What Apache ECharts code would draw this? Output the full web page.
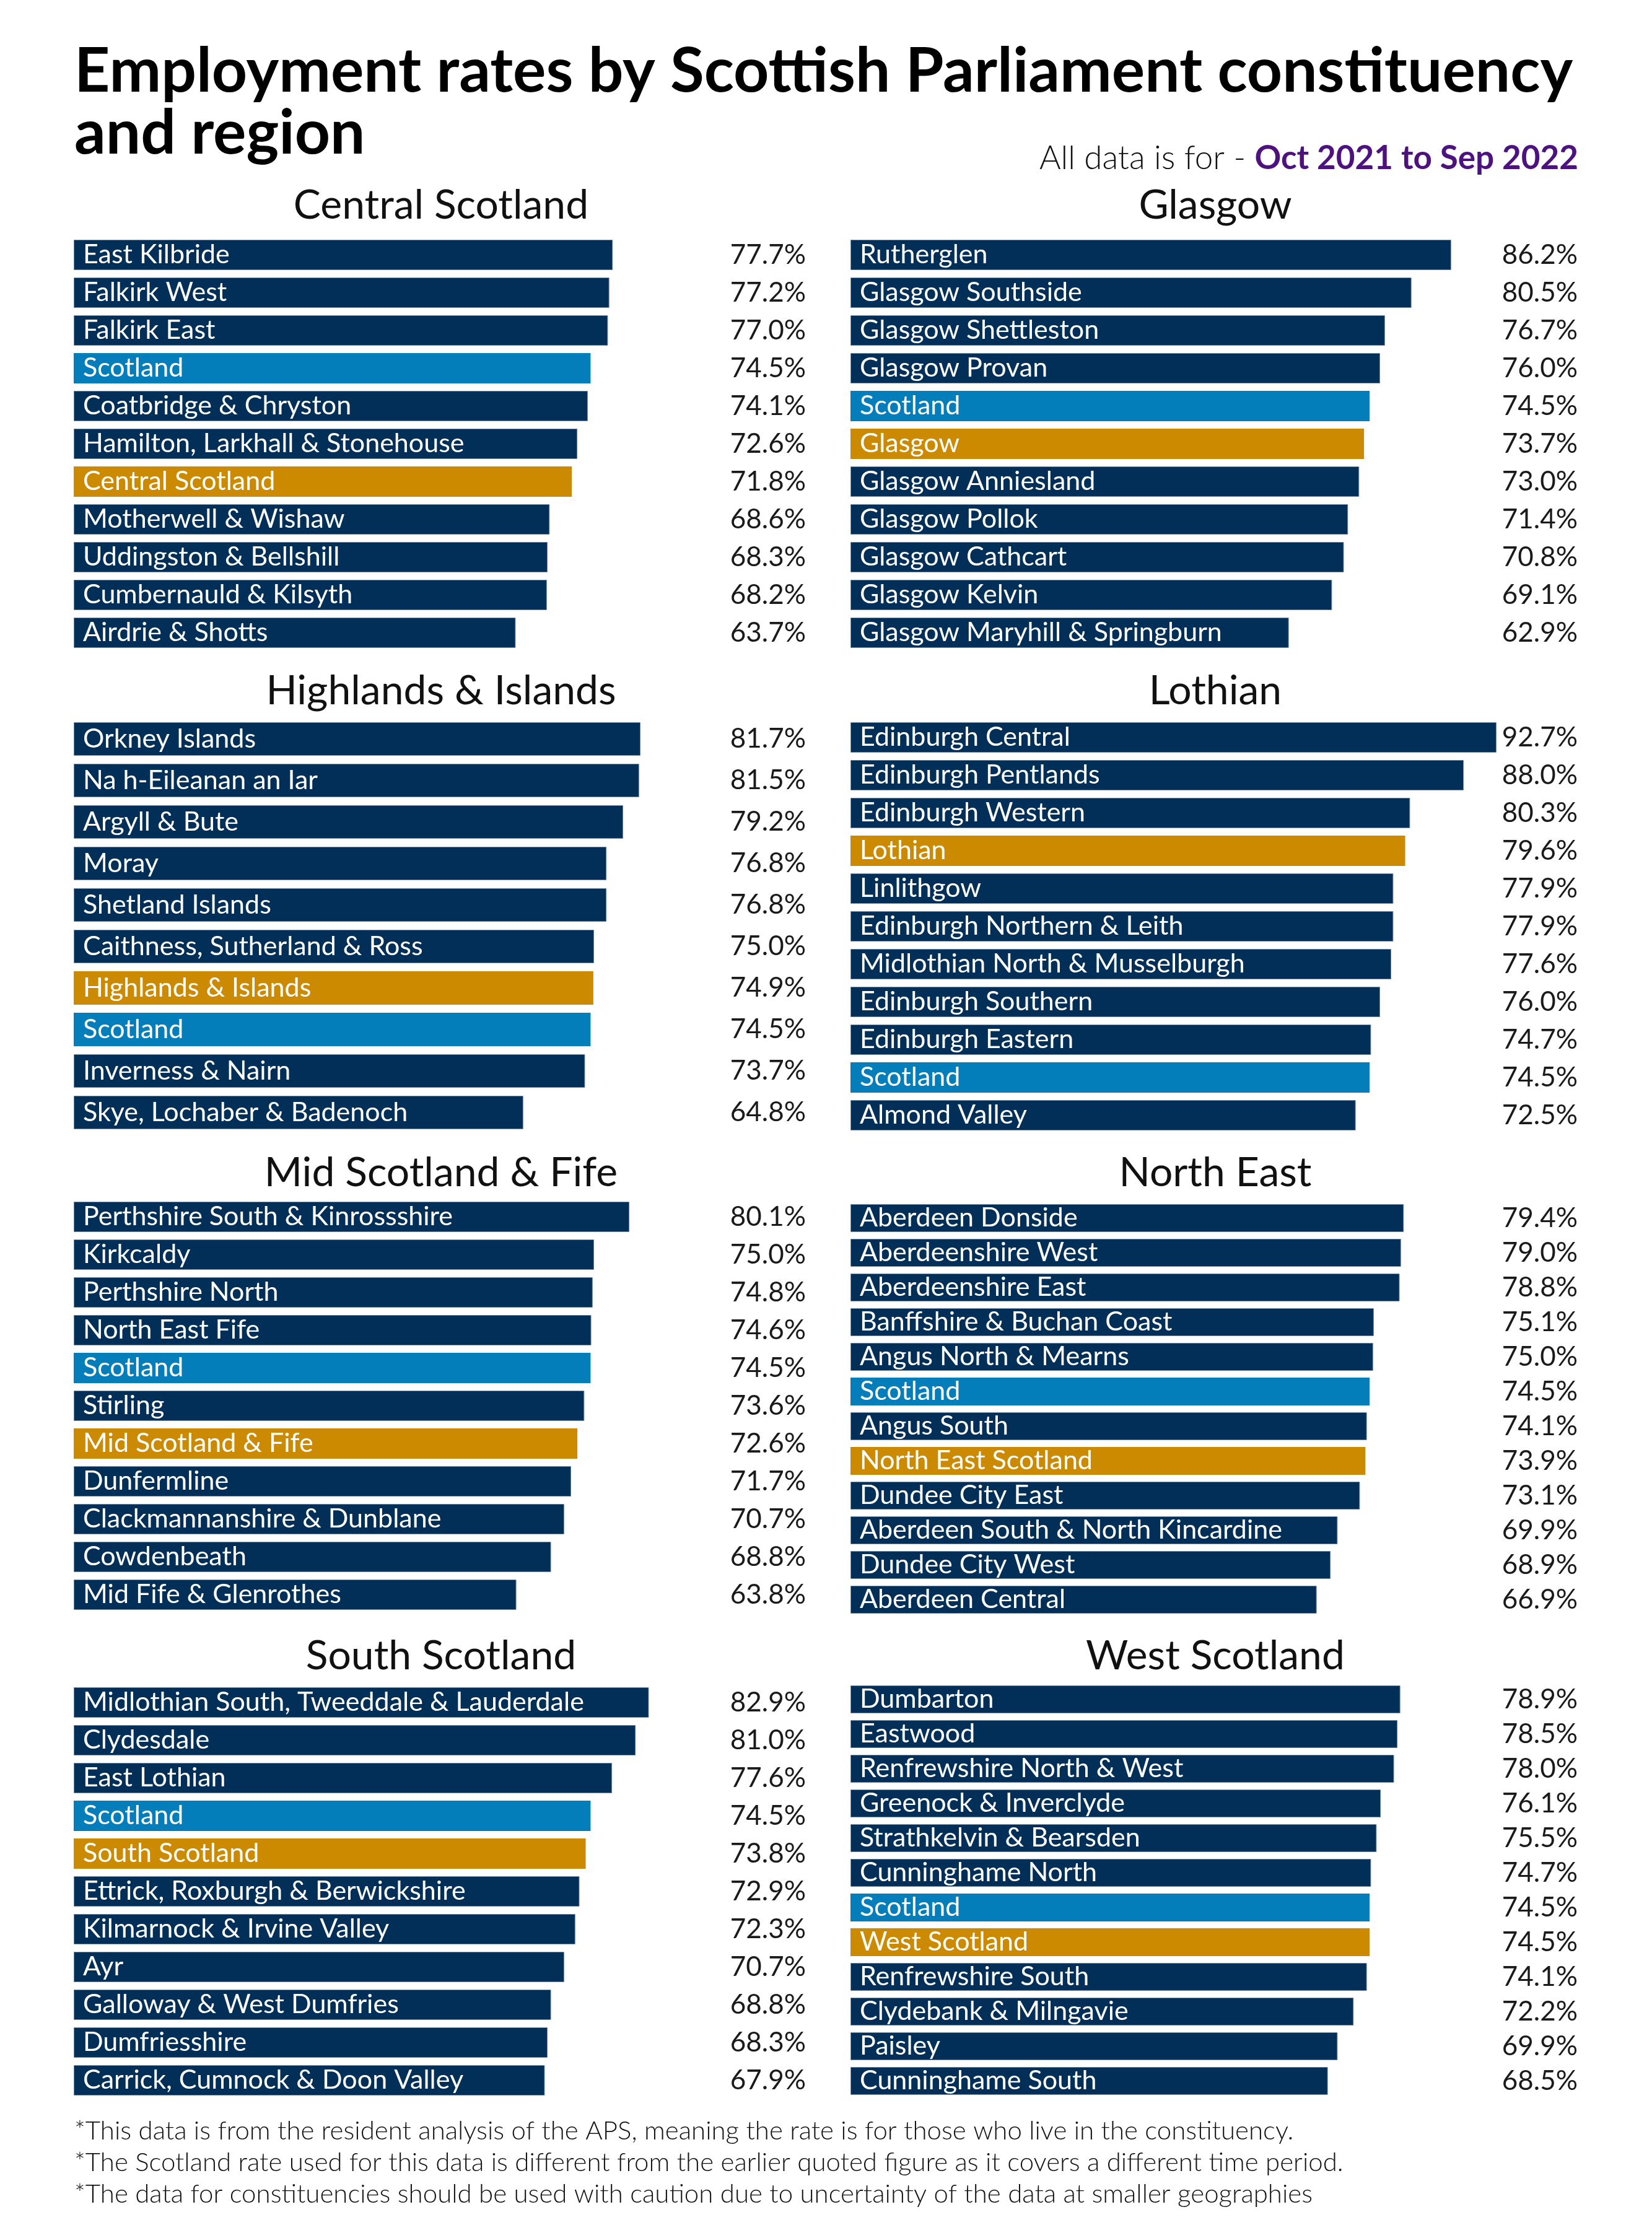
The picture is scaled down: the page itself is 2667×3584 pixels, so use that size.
<!DOCTYPE html>
<html><head><meta charset="utf-8">
<script src="https://cdn.jsdelivr.net/npm/echarts@6/dist/echarts.min.js"></script>
<style>html,body{margin:0;padding:0;background:#fff}#chart{width:2667px;height:3584px}</style>
</head><body><div id="chart"></div>
<script>
// ---------------- DATA ----------------
const panelTitles = ['Central Scotland','Glasgow','Highlands & Islands','Lothian','Mid Scotland & Fife','North East','South Scotland','West Scotland'];
const regionTotalNames = ['Central Scotland','Glasgow','Highlands & Islands','Lothian','Mid Scotland & Fife','North East Scotland','South Scotland','West Scotland'];
const scotlandName = 'Scotland';

const centralNames = ['East Kilbride','Falkirk West','Falkirk East','Scotland','Coatbridge & Chryston','Hamilton, Larkhall & Stonehouse','Central Scotland','Motherwell & Wishaw','Uddingston & Bellshill','Cumbernauld & Kilsyth','Airdrie & Shotts'];
const centralValues = [77.7,77.2,77.0,74.5,74.1,72.6,71.8,68.6,68.3,68.2,63.7];

const glasgowNames = ['Rutherglen','Glasgow Southside','Glasgow Shettleston','Glasgow Provan','Scotland','Glasgow','Glasgow Anniesland','Glasgow Pollok','Glasgow Cathcart','Glasgow Kelvin','Glasgow Maryhill & Springburn'];
const glasgowValues = [86.2,80.5,76.7,76.0,74.5,73.7,73.0,71.4,70.8,69.1,62.9];

const highlandsNames = ['Orkney Islands','Na h-Eileanan an Iar','Argyll & Bute','Moray','Shetland Islands','Caithness, Sutherland & Ross','Highlands & Islands','Scotland','Inverness & Nairn','Skye, Lochaber & Badenoch'];
const highlandsValues = [81.7,81.5,79.2,76.8,76.8,75.0,74.9,74.5,73.7,64.8];

const lothianNames = ['Edinburgh Central','Edinburgh Pentlands','Edinburgh Western','Lothian','Linlithgow','Edinburgh Northern & Leith','Midlothian North & Musselburgh','Edinburgh Southern','Edinburgh Eastern','Scotland','Almond Valley'];
const lothianValues = [92.7,88.0,80.3,79.6,77.9,77.9,77.6,76.0,74.7,74.5,72.5];

const midNames = ['Perthshire South & Kinrossshire','Kirkcaldy','Perthshire North','North East Fife','Scotland','Stirling','Mid Scotland & Fife','Dunfermline','Clackmannanshire & Dunblane','Cowdenbeath','Mid Fife & Glenrothes'];
const midValues = [80.1,75.0,74.8,74.6,74.5,73.6,72.6,71.7,70.7,68.8,63.8];

const northEastNames = ['Aberdeen Donside','Aberdeenshire West','Aberdeenshire East','Banffshire & Buchan Coast','Angus North & Mearns','Scotland','Angus South','North East Scotland','Dundee City East','Aberdeen South & North Kincardine','Dundee City West','Aberdeen Central'];
const northEastValues = [79.4,79.0,78.8,75.1,75.0,74.5,74.1,73.9,73.1,69.9,68.9,66.9];

const southNames = ['Midlothian South, Tweeddale & Lauderdale','Clydesdale','East Lothian','Scotland','South Scotland','Ettrick, Roxburgh & Berwickshire','Kilmarnock & Irvine Valley','Ayr','Galloway & West Dumfries','Dumfriesshire','Carrick, Cumnock & Doon Valley'];
const southValues = [82.9,81.0,77.6,74.5,73.8,72.9,72.3,70.7,68.8,68.3,67.9];

const westNames = ['Dumbarton','Eastwood','Renfrewshire North & West','Greenock & Inverclyde','Strathkelvin & Bearsden','Cunninghame North','Scotland','West Scotland','Renfrewshire South','Clydebank & Milngavie','Paisley','Cunninghame South'];
const westValues = [78.9,78.5,78.0,76.1,75.5,74.7,74.5,74.5,74.1,72.2,69.9,68.5];

const mainTitle = 'Employment rates by Scottish Parliament constituency\nand region';
const subtitleLead = 'All data is for - ';
const subtitlePeriod = 'Oct 2021 to Sep 2022';
const footnotes = [
  '*This data is from the resident analysis of the APS, meaning the rate is for those who live in the constituency.',
  '*The Scotland rate used for this data is different from the earlier quoted figure as it covers a different time period.',
  '*The data for constituencies should be used with caution due to uncertainty of the data at smaller geographies'
];

// ---------------- LAYOUT / STYLE ----------------
const panels = [
  {names: centralNames,   values: centralValues},
  {names: glasgowNames,   values: glasgowValues},
  {names: highlandsNames, values: highlandsValues},
  {names: lothianNames,   values: lothianValues},
  {names: midNames,       values: midValues},
  {names: northEastNames, values: northEastValues},
  {names: southNames,     values: southValues},
  {names: westNames,      values: westValues}
];
const geo = [
  {left:119,  top:381,    pitch:61, bar:49, titleBase:357},
  {left:1373, top:381,    pitch:61, bar:49, titleBase:357},
  {left:119,  top:1159.5, pitch:67, bar:54, titleBase:1141},
  {left:1373, top:1160,   pitch:61, bar:49, titleBase:1141},
  {left:119,  top:1934,   pitch:61, bar:49, titleBase:1919},
  {left:1373, top:1938.5, pitch:56, bar:45, titleBase:1919},
  {left:119,  top:2718,   pitch:61, bar:49, titleBase:2699},
  {left:1373, top:2715.5, pitch:56, bar:45, titleBase:2699}
];
const colW = [1120, 1125];
const valueRight = [1301, 2547];
const titleCx = [712, 1962];

const NAVY = '#022F57', BLUE = '#047DBB', GOLD = '#CC8A00', PURPLE = '#4E1280';
const FONT = 'Lato';

const grid = [], xAxis = [], yAxis = [], series = [], graphic = [];
panels.forEach((p, i) => {
  const g = geo[i], col = i % 2;
  const n = p.names.length;
  grid.push({left: g.left, top: g.top, width: colW[col], height: n * g.pitch, outerBoundsMode: 'none', containLabel: false});
  xAxis.push({type: 'value', gridIndex: i, min: 0, max: 100, show: false});
  yAxis.push({type: 'category', gridIndex: i, data: p.names, inverse: true, show: false});
  yAxis.push({
    type: 'category', gridIndex: i, position: 'right', inverse: true,
    data: p.values.map(v => v.toFixed(1) + '%'),
    axisLine: {show: false}, axisTick: {show: false}, splitLine: {show: false},
    axisLabel: {interval: 0, align: 'right', margin: valueRight[col] - (g.left + colW[col]),
      fontFamily: FONT, fontSize: 44, color: '#1a1a1a'}
  });
  series.push({
    type: 'bar', xAxisIndex: i, yAxisIndex: 2 * i, barWidth: g.bar, animation: false,
    data: p.values.map((v, k) => {
      const nm = p.names[k];
      const c = nm === scotlandName ? BLUE : (regionTotalNames.includes(nm) ? GOLD : NAVY);
      return {value: v, itemStyle: {color: c, borderColor: c === NAVY ? '#6E87A2' : c, borderWidth: c === NAVY ? 1 : 0}};
    }),
    label: {show: true, position: 'insideLeft', distance: 15, formatter: '{b}',
      color: '#ffffff', fontFamily: FONT, fontSize: 43},
    emphasis: {disabled: true}
  });
  graphic.push({type: 'text', x: titleCx[col], y: g.titleBase - 25,
    style: {text: panelTitles[i], fill: '#111', font: '66px ' + FONT, textAlign: 'center', textVerticalAlign: 'middle'}});
});

graphic.push({type: 'text', x: 2548, y: 256,
  style: {text: '{a|' + subtitleLead + '}{b|' + subtitlePeriod + '}', align: 'right', verticalAlign: 'middle',
    rich: {a: {fontFamily: FONT, fontWeight: 300, fontSize: 53, fill: '#111'},
           b: {fontFamily: FONT, fontWeight: 'bold', fontSize: 53, fill: PURPLE}}}});
footnotes.forEach((t, k) => {
  graphic.push({type: 'text', x: 120, y: 3440 + k * 51,
    style: {text: t, fill: '#111', font: '300 42px ' + FONT, textAlign: 'left', textVerticalAlign: 'middle'}});
});

const chart = echarts.init(document.getElementById('chart'), null, {renderer: 'canvas'});
chart.setOption({
  backgroundColor: '#ffffff',
  animation: false,
  title: {text: mainTitle, left: 120, top: 66, padding: 0,
    textStyle: {fontFamily: FONT, fontWeight: 'bold', fontSize: 100, lineHeight: 100, color: '#000'}},
  grid, xAxis, yAxis, series, graphic
});
</script></body></html>
